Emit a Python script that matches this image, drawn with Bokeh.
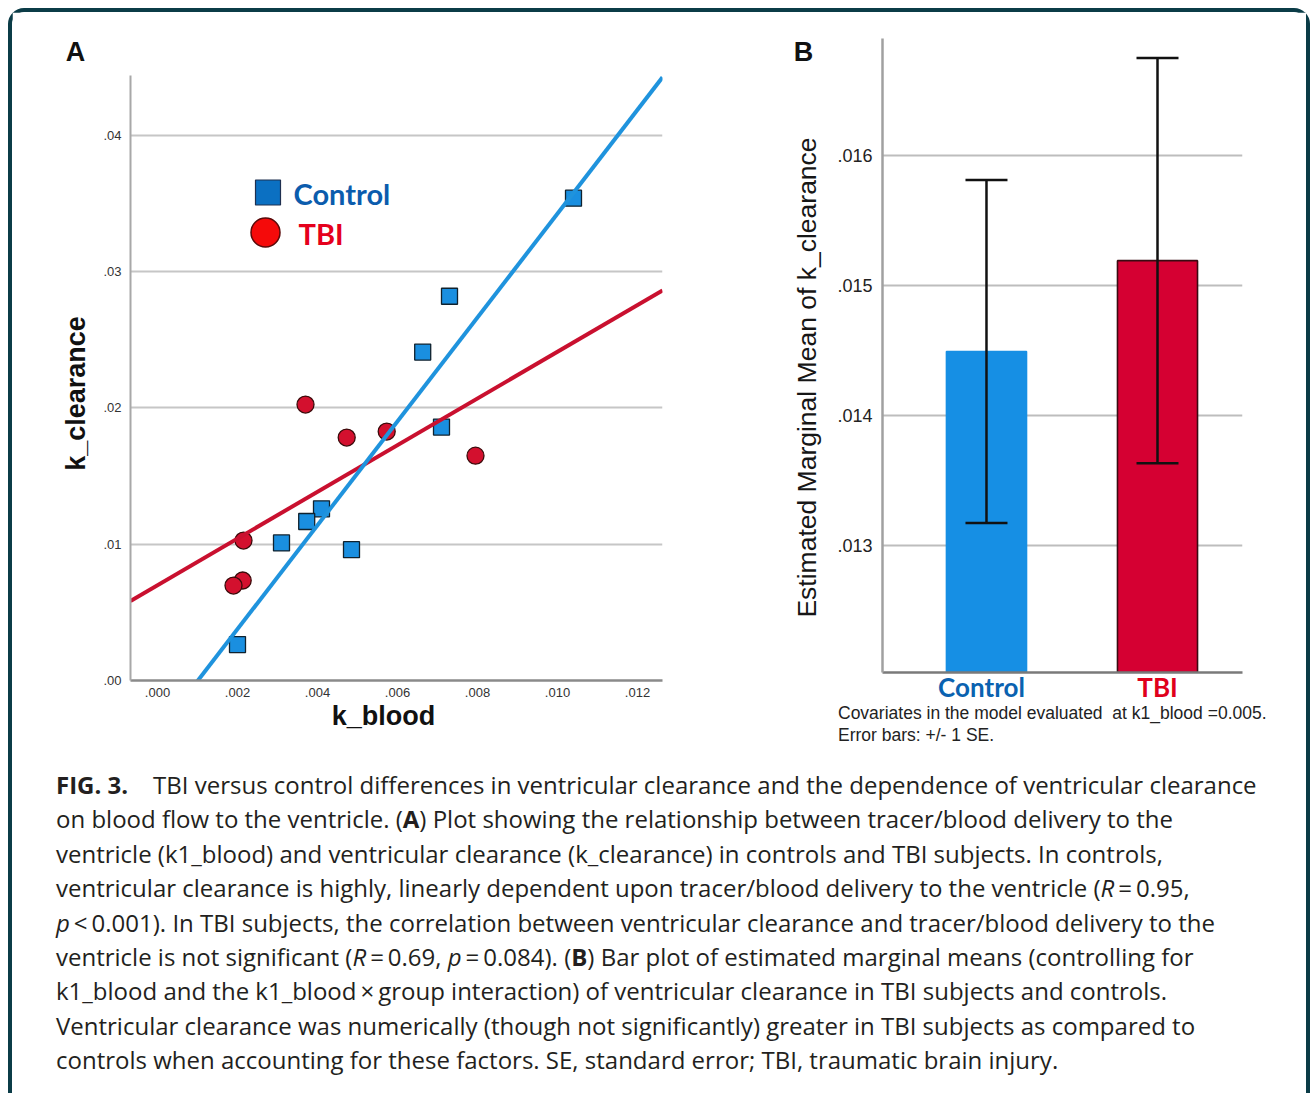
import numpy as np
from bokeh.plotting import figure
from bokeh.models import (Range1d, FixedTicker, Label, Whisker, TeeHead,
                          ColumnDataSource, Div)
from bokeh.layouts import row, column
from bokeh.embed import file_html
from bokeh.resources import INLINE

# ---------------- data: panel A (scatter) ----------------
control_k_blood = [0.0104, 0.0073, 0.00663, 0.0071, 0.0041, 0.00373, 0.0031, 0.00485, 0.0020]
control_k_clearance = [0.0354, 0.0282, 0.0241, 0.0186, 0.0126, 0.01167, 0.0101, 0.0096, 0.00264]
tbi_k_blood = [0.0037, 0.00473, 0.00573, 0.00795, 0.00215, 0.00213, 0.0019]
tbi_k_clearance = [0.02025, 0.01783, 0.01827, 0.0165, 0.01027, 0.00734, 0.00697]

a_x_ticks = [0.0, 0.002, 0.004, 0.006, 0.008, 0.010, 0.012]
a_x_tick_labels = [".000", ".002", ".004", ".006", ".008", ".010", ".012"]
a_y_ticks = [0.0, 0.01, 0.02, 0.03, 0.04]
a_y_tick_labels = [".00", ".01", ".02", ".03", ".04"]
a_x_limits = [-0.000675, 0.012625]
a_y_limits = [0.0, 0.0444]

# ---------------- data: panel B (bars) ----------------
groups = ["Control", "TBI"]
emm = [0.01449, 0.01519]
se = [0.00132, 0.00156]
b_y_ticks = [0.013, 0.014, 0.015, 0.016]
b_y_tick_labels = [".013", ".014", ".015", ".016"]
b_y_limits = [0.01202, 0.0169]
note_lines = ["Covariates in the model evaluated&nbsp; at k1_blood =0.005.",
              "Error bars: +/- 1 SE."]

# ---------------- colours / fonts ----------------
BLUE_PT = "#1a8fe0"
RED_PT = "#d3102e"
BLUE_LINE = "#1f93dd"
RED_LINE = "#c9102f"
SANS = "Liberation Sans"


def page_label(p, side, **kw):
    """Text placed in page-pixel coordinates (via the 'px' ranges), kept in a side
    panel so that it is drawn outside the frame."""
    xr = kw.pop("x_range_name", "px")
    lab = Label(x_range_name=xr, y_range_name="px", text_baseline="middle", **kw)
    p.add_layout(lab, side)
    return lab


# ================= Panel A =================
pA = figure(width=748, height=738, output_backend="svg", toolbar_location=None,
            x_range=Range1d(*a_x_limits), y_range=Range1d(*a_y_limits),
            min_border_left=118, min_border_right=98, min_border_top=63,
            min_border_bottom=70)
pA.extra_x_ranges = {"px": Range1d(130, 662)}
pA.extra_y_ranges = {"px": Range1d(680, 75)}
pA.outline_line_color = None
pA.xgrid.grid_line_color = None
pA.ygrid.grid_line_color = "#c6c6c6"
pA.ygrid.grid_line_width = 2
pA.xaxis.ticker = FixedTicker(ticks=a_x_ticks)
pA.yaxis.ticker = FixedTicker(ticks=a_y_ticks)
pA.ygrid.ticker = FixedTicker(ticks=a_y_ticks[1:])
pA.xaxis.major_label_overrides = dict(zip(a_x_ticks, a_x_tick_labels))
pA.yaxis.major_label_overrides = dict(zip(a_y_ticks, a_y_tick_labels))
for ax in (pA.xaxis[0], pA.yaxis[0]):
    ax.major_tick_line_color = None
    ax.minor_tick_line_color = None
    ax.major_tick_out = 0
    ax.major_tick_in = 0
    ax.minor_tick_out = 0
    ax.major_label_text_font = SANS
    ax.major_label_text_font_size = "13px"
    ax.major_label_text_color = "#333333"
pA.yaxis.axis_line_color = "#a8a8a8"
pA.yaxis.axis_line_width = 2
pA.xaxis.axis_line_color = "#8a8a8a"
pA.xaxis.axis_line_width = 2.5
pA.yaxis.major_label_standoff = 9
pA.xaxis.major_label_standoff = 7

# points
pA.scatter(control_k_blood, control_k_clearance, marker="square", size=16,
           fill_color=BLUE_PT, line_color="#10222e", line_width=1.3)
pA.scatter(tbi_k_blood, tbi_k_clearance, marker="circle", size=17,
           fill_color=RED_PT, line_color="#3a0a0a", line_width=1.3)

# fit lines (least squares through each group's points)
xs = np.array(a_x_limits)
c_fit = np.polyfit(control_k_blood, control_k_clearance, 1)
t_fit = np.polyfit(tbi_k_blood, tbi_k_clearance, 1)
pA.line(xs, np.polyval(t_fit, xs), line_color=RED_LINE, line_width=4)
pA.line(xs, np.polyval(c_fit, xs), line_color=BLUE_LINE, line_width=4)

# legend (positioned in page-pixel coordinates)
pA.scatter([267.5], [192], x_range_name="px", y_range_name="px", marker="square",
           size=25, fill_color="#0b70c2", line_color="#1f3050", line_width=1.2)
pA.scatter([265], [232], x_range_name="px", y_range_name="px", marker="circle",
           size=29, fill_color="#f50a0a", line_color="#5a0a0a", line_width=1.5)
pA.add_layout(Label(x=293, y=193, text="Control", x_range_name="px", y_range_name="px",
                    text_font="Lato", text_font_style="bold", text_font_size="29px",
                    text_color="#0b5cad", text_baseline="middle", text_align="left"))
pA.add_layout(Label(x=298, y=233, text="TBI", x_range_name="px", y_range_name="px",
                    text_font="Lato", text_font_style="bold", text_font_size="29px",
                    text_color="#e5001c", text_baseline="middle", text_align="left"))

# panel letter and axis titles
page_label(pA, "left", x=75, y=51, text="A", text_font=SANS, text_font_style="bold",
           text_font_size="27px", text_color="#111111", text_align="center")
page_label(pA, "below", x=383, y=715, text="k_blood", text_font=SANS,
           text_font_style="bold", text_font_size="27px", text_color="#111111",
           text_align="center")
page_label(pA, "left", x=75, y=393, text="k_clearance", angle=np.pi / 2, text_font=SANS,
           text_font_style="bold", text_font_size="27px", text_color="#111111",
           text_align="center")

# ================= Panel B =================
bar_x = [i + 1 for i in range(len(groups))]
pB = figure(width=546, height=694, output_backend="svg", toolbar_location=None,
            x_range=Range1d(0.392, 2.497), y_range=Range1d(*b_y_limits),
            min_border_left=122, min_border_right=64, min_border_top=26,
            min_border_bottom=34)
pB.extra_x_ranges = {"px": Range1d(882, 1242)}
pB.extra_y_ranges = {"px": Range1d(672, 38)}
pB.outline_line_color = None
pB.xgrid.grid_line_color = None
pB.ygrid.grid_line_color = "#bdbdbd"
pB.ygrid.grid_line_width = 2
pB.yaxis.ticker = FixedTicker(ticks=b_y_ticks)
pB.ygrid.ticker = FixedTicker(ticks=b_y_ticks)
pB.yaxis.major_label_overrides = dict(zip(b_y_ticks, b_y_tick_labels))
pB.xaxis.ticker = FixedTicker(ticks=[])
for ax in (pB.xaxis[0], pB.yaxis[0]):
    ax.major_tick_line_color = None
    ax.minor_tick_line_color = None
    ax.major_tick_out = 0
    ax.major_tick_in = 0
    ax.minor_tick_out = 0
    ax.major_label_text_font = SANS
    ax.major_label_text_font_size = "18px"
    ax.major_label_text_color = "#222222"
pB.yaxis.major_label_standoff = 10
pB.xaxis.major_label_standoff = 0
pB.yaxis.axis_line_color = "#a0a0a0"
pB.yaxis.axis_line_width = 2.5
pB.xaxis.axis_line_color = "#7a7a7a"
pB.xaxis.axis_line_width = 2.5

src = ColumnDataSource(dict(
    x=bar_x, top=emm, bottom=[b_y_limits[0]] * len(groups),
    upper=[m + s for m, s in zip(emm, se)], lower=[m - s for m, s in zip(emm, se)],
    fill=["#168fe4", "#d50032"], line=["#168fe4", "#3a0a12"],
))
pB.vbar(x="x", top="top", bottom="bottom", width=0.468, source=src,
        fill_color="fill", line_color="line", line_width=1.6)
pB.add_layout(Whisker(source=src, base="x", upper="upper", lower="lower",
                      level="annotation", line_color="#111111", line_width=2.5,
                      upper_head=TeeHead(size=42, line_color="#111111", line_width=2.5),
                      lower_head=TeeHead(size=42, line_color="#111111", line_width=2.5)))

grp_colors = ["#0a62b0", "#e0001b"]
grp_sides = ["below", "right"]
grp_nudge = [-5, 0]
for gx, g, col, sd, dx in zip(bar_x, groups, grp_colors, grp_sides, grp_nudge):
    page_label(pB, sd, x=gx, y=686, x_offset=dx, text=g, x_range_name="default",
               text_font="Lato", text_font_style="bold", text_font_size="26px",
               text_color=col, text_align="center")

page_label(pB, "left", x=803, y=51, text="B", text_font=SANS, text_font_style="bold",
           text_font_size="27px", text_color="#111111", text_align="center")
page_label(pB, "left", x=806, y=377, text="Estimated Marginal Mean of k_clearance",
           angle=np.pi / 2, text_font=SANS, text_font_size="26.5px",
           text_color="#161616", text_align="center")

foot = Div(text=("<div style=\"font-family:'Liberation Sans';font-size:17.5px;line-height:22px;"
                 "color:#222222;white-space:nowrap;padding-left:78px;margin-top:-4px;\">"
                 + "<br>".join(note_lines) + "</div>"),
           width=546, height=44, margin=0)

# ================= caption =================
eq = "&thinsp;=&thinsp;"
caption_lines = [
    "<b>FIG. 3.</b>&nbsp;&nbsp;&nbsp;&nbsp;TBI versus control differences in ventricular clearance and the dependence of ventricular clearance",
    "on blood flow to the ventricle. (<b>A</b>) Plot showing the relationship between tracer/blood delivery to the",
    "ventricle (k1_blood) and ventricular clearance (k_clearance) in controls and TBI subjects. In controls,",
    f"ventricular clearance is highly, linearly dependent upon tracer/blood delivery to the ventricle (<i>R</i>{eq}0.95,",
    "<i>p</i>&thinsp;&lt;&thinsp;0.001). In TBI subjects, the correlation between ventricular clearance and tracer/blood delivery to the",
    f"ventricle is not significant (<i>R</i>{eq}0.69, <i>p</i>{eq}0.084). (<b>B</b>) Bar plot of estimated marginal means (controlling for",
    "k1_blood and the k1_blood&thinsp;&times;&thinsp;group interaction) of ventricular clearance in TBI subjects and controls.",
    "Ventricular clearance was numerically (though not significantly) greater in TBI subjects as compared to",
    "controls when accounting for these factors. SE, standard error; TBI, traumatic brain injury.",
]
caption_html = ("<div style=\"font-family:'Open Sans';font-size:24px;line-height:34.4px;"
                "color:#231f20;white-space:nowrap;padding:18px 0 0 44px;\">"
                + "<br>".join(caption_lines) + "</div>")
caption = Div(text=caption_html, width=1294, height=343, margin=0)

layout = column(row(pA, column(pB, foot)), caption, margin=(8, 0, 0, 8),
                styles={"border": "4px solid #0b3c47", "border-bottom": "none",
                        "border-radius": "16px 16px 0 0", "background": "white"})

open("out.html", "w").write(file_html(layout, INLINE))
